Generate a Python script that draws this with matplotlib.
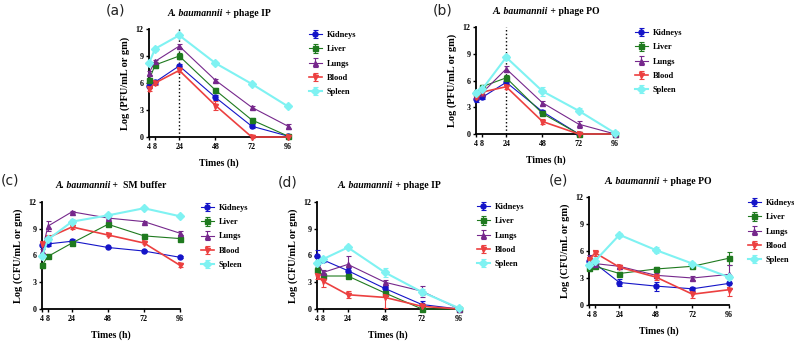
"""Organ titres after A. baumannii challenge: phage (PFU) and bacterial (CFU) loads."""

import matplotlib

matplotlib.use("Agg")
import matplotlib.pyplot as plt  # noqa: E402

W, H = 794, 341

times = [4, 8, 24, 48, 72, 96]
organs = ["Kidneys", "Liver", "Lungs", "Blood", "Spleen"]

# (a) phage IP, PFU
a_mean = {
    "Kidneys": [5.7, 6.1, 7.9, 4.4, 1.2, 0.1],
    "Liver": [6.3, 8.0, 9.0, 5.2, 1.9, 0.1],
    "Lungs": [7.1, 8.4, 10.1, 6.3, 3.3, 1.2],
    "Blood": [5.3, 6.0, 7.4, 3.5, 0.0, 0.0],
    "Spleen": [8.2, 9.8, 11.3, 8.2, 5.9, 3.4],
}
a_err = {
    "Kidneys": [0.2, 0.2, 0.2, 0.3, 0.2, 0.1],
    "Liver": [0.2, 0.3, 0.3, 0.2, 0.2, 0.1],
    "Lungs": [0.2, 0.2, 0.2, 0.2, 0.2, 0.3],
    "Blood": [0.2, 0.2, 0.2, 0.5, 0.1, 0.1],
    "Spleen": [0.2, 0.2, 0.2, 0.1, 0.1, 0.1],
}

# (b) phage PO, PFU
b_mean = {
    "Kidneys": [3.9, 4.1, 5.8, 2.5, 0.0, 0.0],
    "Liver": [4.6, 5.3, 6.3, 2.3, 0.0, 0.0],
    "Lungs": [4.3, 4.6, 7.3, 3.5, 1.1, 0.0],
    "Blood": [4.2, 4.7, 5.3, 1.4, 0.0, 0.0],
    "Spleen": [4.6, 5.0, 8.6, 4.8, 2.6, 0.1],
}
b_err = {
    "Kidneys": [0.3, 0.2, 0.3, 0.2, 0.1, 0.1],
    "Liver": [0.3, 0.2, 0.3, 0.2, 0.1, 0.1],
    "Lungs": [0.3, 0.2, 0.3, 0.2, 0.4, 0.1],
    "Blood": [0.3, 0.2, 0.3, 0.3, 0.1, 0.1],
    "Spleen": [0.3, 0.3, 0.3, 0.5, 0.3, 0.1],
}

# (c) SM buffer, CFU
c_mean = {
    "Kidneys": [7.2, 7.3, 7.6, 6.9, 6.5, 5.8],
    "Liver": [4.9, 5.9, 7.4, 9.5, 8.2, 7.9],
    "Lungs": [6.5, 9.3, 10.9, 10.2, 9.8, 8.5],
    "Blood": [7.3, 8.0, 9.2, 8.3, 7.4, 4.9],
    "Spleen": [5.9, 7.8, 9.8, 10.5, 11.3, 10.4],
}
c_err = {
    "Kidneys": [0.2, 0.2, 0.2, 0.1, 0.1, 0.1],
    "Liver": [0.3, 0.2, 0.2, 0.2, 0.2, 0.2],
    "Lungs": [0.2, 0.6, 0.1, 0.1, 0.1, 0.2],
    "Blood": [0.2, 0.3, 0.2, 0.1, 0.1, 0.2],
    "Spleen": [0.2, 0.2, 0.3, 0.1, 0.1, 0.1],
}

# (d) phage IP, CFU
d_mean = {
    "Kidneys": [6.0, 5.5, 4.3, 2.3, 0.5, 0.0],
    "Liver": [4.4, 3.7, 3.7, 1.8, 0.0, 0.0],
    "Lungs": [5.3, 4.1, 5.0, 3.0, 2.0, 0.0],
    "Blood": [3.7, 3.1, 1.6, 1.3, 0.3, 0.0],
    "Spleen": [5.2, 5.6, 6.9, 4.1, 1.9, 0.1],
}
d_err = {
    "Kidneys": [0.6, 0.2, 0.3, 0.3, 0.4, 0.1],
    "Liver": [0.3, 0.3, 0.2, 0.3, 0.1, 0.1],
    "Lungs": [0.4, 0.3, 0.9, 0.3, 0.6, 0.1],
    "Blood": [0.3, 0.6, 0.4, 1.2, 0.3, 0.1],
    "Spleen": [0.3, 0.2, 0.2, 0.5, 0.3, 0.1],
}

# (e) phage PO, CFU
e_mean = {
    "Kidneys": [4.9, 4.6, 2.5, 2.1, 1.8, 2.4],
    "Liver": [4.1, 4.3, 3.5, 4.0, 4.3, 5.2],
    "Lungs": [5.3, 4.6, 4.3, 3.3, 3.0, 3.4],
    "Blood": [5.0, 5.8, 4.2, 3.1, 1.2, 1.7],
    "Spleen": [4.4, 4.9, 7.8, 6.1, 4.6, 3.1],
}
e_err = {
    "Kidneys": [0.3, 0.3, 0.4, 0.5, 0.2, 0.6],
    "Liver": [0.3, 0.2, 0.2, 0.2, 0.2, 0.7],
    "Lungs": [0.3, 0.2, 0.2, 0.3, 0.2, 1.0],
    "Blood": [0.3, 0.3, 0.2, 0.3, 0.4, 0.7],
    "Spleen": [0.3, 0.3, 0.2, 0.3, 0.2, 0.2],
}

STYLE = {
    "Kidneys": dict(color="#1414c8", marker="o", lw=0.8),
    "Liver": dict(color="#1f7a1f", marker="s", lw=0.8),
    "Lungs": dict(color="#76288c", marker="^", lw=0.8),
    "Blood": dict(color="#ec4040", marker="v", lw=1.2),
    "Spleen": dict(color="#7ff2f2", marker="D", lw=1.5),
}

SERIF = "Liberation Serif"

# label, title suffix, y unit, axes box (left, top, right, bottom px),
# legend top-left px, panel label centre, title centre, dotted line at 24 h
panels = [
    ("(a)", " + phage IP", "PFU", a_mean, a_err, (149, 29, 288, 137),
     (309, 31), (115, 11), (219, 13), True),
    ("(b)", " + phage PO", "PFU", b_mean, b_err, (476, 27, 615, 134),
     (635, 29), (443, 10), (546, 11), True),
    ("(c)", " +  SM buffer", "CFU", c_mean, c_err, (42, 202, 180, 309),
     (201, 204), (10, 181), (111, 185), False),
    ("(d)", " + phage IP", "CFU", d_mean, d_err, (317, 202, 459, 309),
     (477, 203), (288, 183), (389, 186), False),
    ("(e)", " + phage PO", "CFU", e_mean, e_err, (589, 197, 729, 305),
     (748, 199), (558, 181), (658, 182), False),
]

fig = plt.figure(figsize=(W / 100, H / 100), dpi=100)
titles = []

for (lab, suffix, unit, means, errs, box, leg, lab_xy, title_xy,
     vline) in panels:
    l, t, r, b = box
    ax = fig.add_axes([l / W, 1 - b / H, (r - l) / W, (b - t) / H])
    for org in organs:
        st = STYLE[org]
        ax.errorbar(times, means[org], yerr=errs[org], color=st["color"],
                    marker=st["marker"], ms=3.6, lw=st["lw"], elinewidth=0.8,
                    capsize=1.8, capthick=0.8, label=org, clip_on=False,
                    zorder=3)
    if vline:
        ax.axvline(24, color="black", ls=":", lw=1.0, zorder=1)

    ax.set_xlim(4, 96)
    ax.set_ylim(0, 12)
    ax.set_xticks(times)
    ax.set_yticks([0, 3, 6, 9, 12])
    ax.tick_params(length=2.5, width=1.0, pad=1.5, labelsize=5.8)
    for tl in ax.get_xticklabels() + ax.get_yticklabels():
        tl.set_fontfamily(SERIF)
        tl.set_fontweight("bold")
    for side in ("top", "right"):
        ax.spines[side].set_visible(False)
    for side in ("left", "bottom"):
        ax.spines[side].set_linewidth(1.3)

    ax.set_xlabel("Times (h)", family=SERIF, weight="bold", fontsize=7,
                  labelpad=6)
    ax.set_ylabel(f"Log ({unit}/mL or gm)", family=SERIF, weight="bold",
                  fontsize=7.5, labelpad=4)

    ax.legend(loc="upper left", bbox_to_anchor=(leg[0] / W, 1 - leg[1] / H),
              bbox_transform=fig.transFigure, frameon=False, borderpad=0,
              borderaxespad=0, handlelength=1.5, handletextpad=0.6,
              labelspacing=0.75, prop=dict(family=SERIF, weight="bold",
                                           size=6))

    fig.text(lab_xy[0] / W, 1 - lab_xy[1] / H, lab, ha="center",
             va="center", family="DejaVu Sans", color="#222222",
             fontsize=10)
    t1 = fig.text(0, 1 - title_xy[1] / H, "A. baumannii", family=SERIF,
                  style="italic", weight="bold", fontsize=7, va="center")
    t2 = fig.text(0, 1 - title_xy[1] / H, suffix, family=SERIF,
                  weight="bold", fontsize=7, va="center")
    titles.append((t1, t2, title_xy[0]))

# centre each two-part title on its target x
renderer = fig.canvas.get_renderer()
for t1, t2, cx in titles:
    w1 = t1.get_window_extent(renderer).width
    w2 = t2.get_window_extent(renderer).width
    x0 = cx - (w1 + w2) / 2
    t1.set_x(x0 / W)
    t2.set_x((x0 + w1) / W)

fig.savefig("out.png", dpi=100)
